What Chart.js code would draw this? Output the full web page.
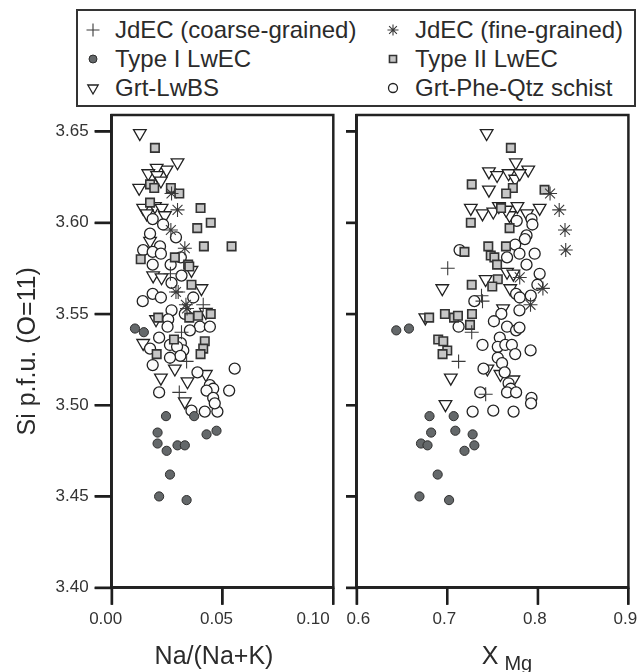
<!DOCTYPE html>
<html>
<head>
<meta charset="utf-8">
<script src="https://cdn.jsdelivr.net/npm/chart.js@4.4.1/dist/chart.umd.min.js"></script>
<style>
  html, body { margin: 0; padding: 0; background: #fff; }
  body { width: 637px; height: 672px; position: relative; overflow: hidden;
         font-family: "Liberation Sans", Arial, sans-serif; color: #2b2b2b; }
  .panel { position: absolute; top: 100px; }
  #legend { position: absolute; left: 76px; top: 9px; width: 560px; height: 98px;
            border: 2px solid #333; box-sizing: border-box; }
  .item { position: absolute; font-size: 24px; line-height: 26px; white-space: nowrap; }
  .item canvas { position: absolute; left: -32px; top: 3px; }
  .xtitle { position: absolute; top: 641px; width: 200px; text-align: center;
            line-height: 28px; white-space: nowrap; }
</style>
</head>
<body>
<div id="legend"></div>
<canvas id="naChart" class="panel" width="345" height="572" style="left:0px"></canvas>
<canvas id="mgChart" class="panel" width="301" height="572" style="left:336px"></canvas>
<div class="xtitle" style="left:114px; font-size:25px;">Na/(Na+K)</div>
<div class="xtitle" style="left:407px;"><span style="font-size:25px;">X</span><span style="font-size:20px; position:relative; top:6px; margin-left:6px;">Mg</span></div>

<script>
// ---------------------------- axis ticks ----------------------------
const siTicks = [3.40, 3.45, 3.50, 3.55, 3.60, 3.65];
const naTicks = [0.00, 0.05, 0.10];
const naLabels = ['0.00', '0.05', '0.10'];
const mgTicks = [0.6, 0.7, 0.8, 0.9];
const mgLabels = ['0.6', '0.7', '0.8', '0.9'];

// ------------------- left panel : Na/(Na+K) vs Si -------------------
const coarseNa = [[0.0265,3.572],[0.030,3.562],[0.0413,3.555],[0.0315,3.540],[0.0338,3.524],[0.0305,3.507]];
const fineNa = [[0.027,3.616],[0.0297,3.607],[0.0267,3.596],[0.033,3.586],[0.029,3.562],[0.0335,3.555],[0.034,3.553]];
const type1Na = [[0.0105,3.542],[0.0145,3.540],[0.0245,3.494],[0.0207,3.485],[0.0207,3.479],[0.0248,3.475],[0.0297,3.478],
  [0.033,3.478],[0.0372,3.494],[0.0428,3.484],[0.0473,3.486],[0.0263,3.462],[0.0214,3.450],[0.0338,3.448]];
const type2Na = [[0.0195,3.641],[0.0173,3.621],[0.0192,3.619],[0.0267,3.619],[0.0305,3.616],[0.0401,3.608],[0.0447,3.600],
  [0.0386,3.597],[0.0416,3.587],[0.0541,3.587],[0.0131,3.580],[0.0345,3.577],[0.0285,3.581],[0.0173,3.611],[0.035,3.576],
  [0.036,3.566],[0.021,3.548],[0.035,3.548],[0.039,3.549],[0.0447,3.550],[0.0281,3.536],[0.0203,3.528],[0.042,3.535],
  [0.0413,3.531],[0.0401,3.528]];
const lwbsNa = [[0.0127,3.649],[0.0297,3.633],[0.0248,3.629],[0.0203,3.630],[0.0165,3.627],[0.0205,3.626],[0.0222,3.623],
  [0.0124,3.619],[0.0142,3.608],[0.0195,3.609],[0.0225,3.608],[0.0158,3.605],[0.024,3.604],[0.0173,3.590],[0.0187,3.571],
  [0.0225,3.570],[0.036,3.574],[0.0405,3.564],[0.0425,3.551],[0.020,3.547],[0.0142,3.534],[0.0285,3.520],[0.0222,3.515],
  [0.0342,3.513],[0.0425,3.517],[0.033,3.502]];
const schistNa = [[0.0185,3.602],[0.0232,3.599],[0.0173,3.594],[0.029,3.592],[0.0218,3.587],[0.0142,3.585],[0.0185,3.584],
  [0.0222,3.583],[0.0312,3.581],[0.0185,3.577],[0.0266,3.577],[0.0315,3.571],[0.027,3.567],[0.014,3.557],[0.0185,3.561],
  [0.0222,3.559],[0.0368,3.559],[0.027,3.552],[0.033,3.550],[0.0255,3.547],[0.0252,3.543],[0.0398,3.543],[0.0443,3.543],
  [0.0353,3.541],[0.0214,3.537],[0.0173,3.531],[0.0263,3.533],[0.0312,3.534],[0.0323,3.530],[0.0295,3.532],[0.031,3.527],
  [0.0263,3.526],[0.0185,3.522],[0.0387,3.518],[0.0555,3.520],[0.0443,3.511],[0.0458,3.509],[0.0428,3.508],[0.053,3.508],
  [0.0458,3.504],[0.0214,3.507],[0.036,3.497],[0.042,3.4965],[0.0477,3.4965],[0.0465,3.501]];

// ----------------------- right panel : XMg vs Si ---------------------
const coarseMg = [[0.7005,3.575],[0.7378,3.560],[0.7389,3.557],[0.727,3.540],[0.7125,3.524],[0.7424,3.506]];
const fineMg = [[0.8135,3.616],[0.8236,3.607],[0.830,3.596],[0.8308,3.585],[0.8056,3.564],[0.7919,3.555],[0.780,3.570]];
const type1Mg = [[0.6437,3.541],[0.6577,3.542],[0.6804,3.494],[0.7071,3.494],[0.6822,3.485],[0.7089,3.486],[0.728,3.484],
  [0.671,3.479],[0.6782,3.478],[0.7299,3.478],[0.719,3.475],[0.6894,3.462],[0.6693,3.450],[0.702,3.448]];
const type2Mg = [[0.7702,3.641],[0.727,3.621],[0.7724,3.619],[0.765,3.616],[0.8074,3.618],[0.7594,3.608],[0.726,3.600],
  [0.7688,3.597],[0.7453,3.587],[0.7648,3.587],[0.719,3.584],[0.748,3.582],[0.752,3.581],[0.755,3.577],[0.727,3.566],
  [0.7558,3.569],[0.7497,3.565],[0.680,3.548],[0.6974,3.550],[0.7075,3.548],[0.7118,3.549],[0.7273,3.550],[0.7251,3.544],
  [0.690,3.536],[0.6956,3.535],[0.700,3.530],[0.6948,3.528]];
const lwbsMg = [[0.7435,3.649],[0.7757,3.633],[0.7894,3.629],[0.746,3.628],[0.755,3.626],[0.7677,3.627],[0.775,3.624],
  [0.780,3.627],[0.746,3.618],[0.726,3.608],[0.7389,3.605],[0.7508,3.606],[0.757,3.609],[0.7688,3.604],[0.7775,3.609],
  [0.788,3.605],[0.802,3.608],[0.765,3.607],[0.6945,3.564],[0.7424,3.569],[0.766,3.573],[0.773,3.572],[0.7695,3.564],
  [0.7616,3.553],[0.6758,3.548],[0.7443,3.520],[0.7587,3.517],[0.773,3.514],[0.7039,3.515],[0.698,3.5005]];
const schistMg = [[0.7767,3.601],[0.793,3.602],[0.794,3.599],[0.7875,3.593],[0.7857,3.591],[0.775,3.588],[0.7136,3.585],
  [0.766,3.581],[0.7797,3.583],[0.7965,3.583],[0.7875,3.577],[0.802,3.572],[0.7995,3.566],[0.776,3.561],[0.780,3.559],
  [0.7922,3.560],[0.7299,3.557],[0.7797,3.552],[0.7597,3.550],[0.7515,3.546],[0.7125,3.543],[0.766,3.543],[0.776,3.541],
  [0.7797,3.5425],[0.758,3.537],[0.7389,3.533],[0.7558,3.532],[0.7641,3.533],[0.7713,3.533],[0.775,3.528],[0.792,3.530],
  [0.7558,3.526],[0.7605,3.523],[0.740,3.520],[0.7634,3.518],[0.7677,3.512],[0.770,3.509],[0.766,3.507],[0.776,3.507],
  [0.7364,3.507],[0.793,3.504],[0.728,3.4965],[0.7508,3.497],[0.7732,3.4965],[0.7925,3.501]];

const seriesNames = {
  coarse: 'JdEC (coarse-grained)', fine: 'JdEC (fine-grained)',
  type1: 'Type I LwEC', type2: 'Type II LwEC',
  lwbs: 'Grt-LwBS', schist: 'Grt-Phe-Qtz schist'
};
// first one is drawn on top
const drawOrder = ['fine', 'coarse', 'type1', 'type2', 'schist', 'lwbs'];
const legendOrder = ['coarse', 'fine', 'type1', 'type2', 'lwbs', 'schist'];

//---------------------------- marker styles ----------------------------//
const markStyle = {
  coarse: {pointStyle: 'cross', radius: 7, fill: '#3a3a3a', stroke: '#3a3a3a', width: 1.1, legendRadius: 6.5},
  fine:   {pointStyle: 'star', radius: 7, fill: '#3a3a3a', stroke: '#3a3a3a', width: 1.1, legendRadius: 5.5},
  type1:  {pointStyle: 'circle', radius: 4.6, fill: '#64686a', stroke: '#2e2e2e', width: 1, legendRadius: 4},
  type2:  {pointStyle: 'rect', radius: 6, fill: '#c6c6c6', stroke: '#333', width: 1.6, legendRadius: 5},
  schist: {pointStyle: 'circle', radius: 5.5, fill: '#fcfcfc', stroke: '#222', width: 1.3, legendRadius: 4.5},
  lwbs:   {pointStyle: 'triangle', rotation: 180, radius: 7.3, fill: '#fff', stroke: '#222', width: 1.3, legendRadius: 6}
};

const FONT = '"Liberation Sans", Arial, sans-serif';
Chart.defaults.font.family = FONT;
Chart.defaults.color = '#333';

function makeDatasets(sets){
  return drawOrder.map(key => {
    const s = markStyle[key];
    return {
      label: seriesNames[key],
      data: sets[key].map(p => ({x: p[0], y: p[1]})),
      pointStyle: s.pointStyle,
      pointRadius: s.radius,
      pointHoverRadius: s.radius,
      pointRotation: s.rotation || 0,
      pointBackgroundColor: s.fill,
      pointBorderColor: s.stroke,
      pointBorderWidth: s.width
    };
  });
}

// box around each panel
const framePlugin = {
  id: 'frame',
  beforeDatasetsDraw(chart){
    const {ctx, chartArea: a} = chart;
    ctx.save();
    ctx.strokeStyle = '#222';
    ctx.lineWidth = 2.5;
    ctx.strokeRect(a.left, a.top, a.right - a.left, a.bottom - a.top);
    ctx.restore();
  }
};

// outward tick marks, placed with the chart's own scales
const tickPlugin = {
  id: 'tickMarks',
  afterDraw(chart, args, opts){
    const {ctx, chartArea: a, scales} = chart;
    ctx.save();
    ctx.strokeStyle = '#1e1e1e';
    ctx.lineWidth = 2.4;
    ctx.beginPath();
    scales.x.ticks.forEach(t => {
      const px = scales.x.getPixelForValue(t.value);
      ctx.moveTo(px, a.bottom);
      ctx.lineTo(px, a.bottom + opts.xLen);
    });
    scales.y.ticks.forEach(t => {
      const py = scales.y.getPixelForValue(t.value);
      ctx.moveTo(a.left, py);
      ctx.lineTo(a.left - opts.yLen, py);
    });
    ctx.stroke();
    ctx.restore();
  }
};

function yScale(withLabels, boxWidth){
  return {
    type: 'linear', min: 3.40, max: 3.659,
    afterBuildTicks: s => { s.ticks = siTicks.map(v => ({value: v})); },
    afterFit: s => {
      s.width = boxWidth;
      s.paddingTop = 0; s.paddingBottom = 0;
    },
    grid: {drawOnChartArea: false, drawTicks: true, tickLength: withLabels ? 17 : 10.7,
           color: '#1e1e1e', lineWidth: 2.2},
    border: {display: true, color: '#222', width: 2.5},
    ticks: {display: withLabels, padding: 6, color: '#333', font: {size: 17}, callback: v => v.toFixed(2)},
    title: {display: withLabels, text: 'Si p.f.u. (O=11)', color: '#2b2b2b',
            font: {size: 25}, padding: {top: 13, bottom: 0}}
  };
}

function xScale(min, max, tickVals, labels, offset, firstPad, lastPad){
  return {
    type: 'linear', min: min, max: max,
    afterBuildTicks: s => { s.ticks = tickVals.map(v => ({value: v})); },
    afterFit: s => {
      s.height = 84.3;
      s.paddingLeft = 0; s.paddingRight = 0;
    },
    grid: {drawOnChartArea: false, drawTicks: true, tickLength: 17, color: '#1e1e1e', lineWidth: 2.2},
    border: {display: true, color: '#222', width: 2.5},
    ticks: {
      autoSkip: false, maxRotation: 0, minRotation: 0, padding: 4,
      labelOffset: offset, color: '#333', font: {size: 17},
      callback: (v, i) => {
        if (i === 0) return '\u00a0'.repeat(firstPad) + labels[i];
        if (i === labels.length - 1) return labels[i] + '\u00a0'.repeat(lastPad);
        return labels[i];
      }
    }
  };
}

function makeChart(id, sets, x, y, padding, yTickLen){
  return new Chart(document.getElementById(id), {
    type: 'scatter',
    data: {datasets: makeDatasets(sets)},
    options: {
      responsive: false,
      animation: false,
      events: [],
      layout: {padding: padding},
      plugins: {
        legend: {display: false},
        tooltip: {enabled: false},
        tickMarks: {xLen: 17, yLen: yTickLen}
      },
      scales: {x: x, y: y}
    },
    plugins: [framePlugin, tickPlugin]
  });
}

const chartNa = makeChart('naChart',
  {coarse: coarseNa, fine: fineNa, type1: type1Na, type2: type2Na, lwbs: lwbsNa, schist: schistNa},
  xScale(0, 0.10, naTicks, naLabels, -6, 0, 6), yScale(true, 111.7),
  {top: 15, right: 11.7, bottom: 0, left: 0}, 17);

const chartMg = makeChart('mgChart',
  {coarse: coarseMg, fine: fineMg, type1: type1Mg, type2: type2Mg, lwbs: lwbsMg, schist: schistMg},
  xScale(0.6, 0.9, mgTicks, mgLabels, -3, 2, 0), yScale(false, 20.7),
  {top: 15, right: 3, bottom: 0, left: 0}, 10.7);

//------------------------------ legend ------------------------------//
const legend = document.getElementById('legend');
legendOrder.forEach((key, n) => {
  const col = n % 2, row = Math.floor(n / 2);
  const item = document.createElement('div');
  item.className = 'item';
  item.style.left = (col ? 337 : 37) + 'px';
  item.style.top = (6 + row * 29) + 'px';
  const c = document.createElement('canvas');
  c.width = 20; c.height = 20;
  item.appendChild(c);
  item.appendChild(document.createTextNode(seriesNames[key]));
  legend.appendChild(item);

  const s = markStyle[key];
  const ctx = c.getContext('2d');
  ctx.fillStyle = s.fill;
  ctx.strokeStyle = s.stroke;
  ctx.lineWidth = s.width;
  if (Chart.helpers && Chart.helpers.drawPoint) {
    Chart.helpers.drawPoint(ctx, {pointStyle: s.pointStyle, rotation: s.rotation || 0,
      radius: s.legendRadius, borderWidth: s.width}, 10, 10);
  }
});
</script>
</body>
</html>
